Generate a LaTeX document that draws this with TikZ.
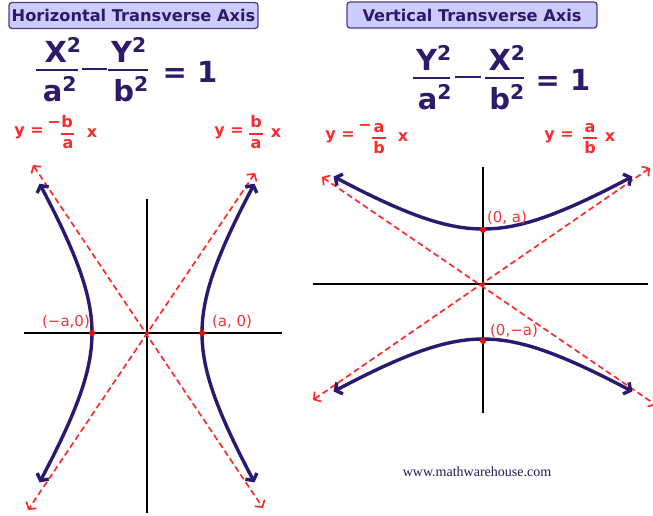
\documentclass[tikz,border=0pt]{standalone}
\usepackage{fontspec}
\setmainfont{DejaVu Sans}
\newfontfamily\wmfont{Liberation Serif}
\usetikzlibrary{arrows.meta,positioning}
\definecolor{boxfill}{HTML}{CCCCFF}
\definecolor{boxdraw}{HTML}{4B3C8C}
\definecolor{eqpurple}{HTML}{2E1A6B}
\definecolor{curvecol}{HTML}{2B1870}
\definecolor{asymred}{HTML}{FF2A2A}
\definecolor{labred}{HTML}{EE3535}
\tikzset{
  titlebox/.style={rectangle,rounded corners=3pt,draw=boxdraw,fill=boxfill,line width=1.3pt,
    text=eqpurple,font=\fontsize{16.2}{16}\selectfont\bfseries,minimum height=26pt,inner sep=2pt},
  eqpart/.style={text=eqpurple,font=\fontsize{29}{29}\selectfont\bfseries,inner sep=0pt,anchor=base},
  eqbar/.style={draw=eqpurple,line width=2.4pt},
  hypcurve/.style={draw=curvecol,line width=3.4pt,line cap=round,
    {Straight Barb[length=5pt,width=13pt]}-{Straight Barb[length=5pt,width=13pt]}},
  asym/.style={draw=asymred,line width=1.7pt,dash pattern=on 6pt off 3.5pt,
    {Straight Barb[length=5pt,width=12pt]}-{Straight Barb[length=5pt,width=12pt]}},
  axisline/.style={draw=black,line width=1.7pt},
  asymlabel/.style={text=asymred,font=\fontsize{16}{16}\selectfont\bfseries,inner sep=0pt},
  labbar/.style={draw=asymred,line width=1.7pt},
  ptlabel/.style={text=labred,font=\fontsize{15}{15}\selectfont,inner sep=0pt},
  vertexdot/.style={circle,fill=red,inner sep=0pt,minimum size=6pt},
}
\begin{document}
\begin{tikzpicture}[x=1pt,y=-1pt]
  \useasboundingbox[fill=white] (0,0) rectangle (653,515);
  % titles
  \node[titlebox,minimum width=249pt] (ht) at (133.5,15.5) {Horizontal Transverse Axis};
  \node[titlebox,minimum width=250pt] (vt) at (472,15) {Vertical Transverse Axis};
  % left equation
  \node[eqpart] (hxn) at (63,62) {X\textsuperscript{2}};
  \node[eqpart] (had) at (60,101) {a\textsuperscript{2}};
  \node[eqpart] (hyn) at (129,62) {Y\textsuperscript{2}};
  \node[eqpart] (hbd) at (131,101) {b\textsuperscript{2}};
  \node[eqpart] (heq) at (190,82) {= 1};
  \draw[eqbar] (36,70) -- (78,70);
  \draw[eqbar,line width=1.8pt] (82,69) -- (107,69);
  \draw[eqbar] (108,70) -- (148,70);
  % right equation
  \node[eqpart] (vyn) at (434,70) {Y\textsuperscript{2}};
  \node[eqpart] (vad) at (435,109) {a\textsuperscript{2}};
  \node[eqpart] (vxn) at (507,70) {X\textsuperscript{2}};
  \node[eqpart] (vbd) at (507,109) {b\textsuperscript{2}};
  \node[eqpart] (veq) at (563,90) {= 1};
  \draw[eqbar] (413,78) -- (450,78);
  \draw[eqbar,line width=1.8pt] (455,77) -- (481,77);
  \draw[eqbar] (485,78) -- (524,78);
  % asymptote labels
  \node[asymlabel] (hnegy) at (29,133) {y =};
  \node[asymlabel] (hnegm) at (54,125) {−};
  \node[asymlabel] (hnegn) at (67,122) {b};
  \node[asymlabel] (hnegd) at (68,144) {a};
  \node[asymlabel] (hnegx) at (92,133) {x};
  \draw[labbar] (61,134) -- (74,134);
  \node[asymlabel] (hposy) at (229,133) {y =};
  \node[asymlabel] (hposn) at (256,122) {b};
  \node[asymlabel] (hposd) at (256,144) {a};
  \node[asymlabel] (hposx) at (276,133) {x};
  \draw[labbar] (249,134) -- (263,134);
  \node[asymlabel] (vnegy) at (340,137) {y =};
  \node[asymlabel] (vnegm) at (365,128) {−};
  \node[asymlabel] (vnegn) at (379,128) {a};
  \node[asymlabel] (vnegd) at (379,148) {b};
  \node[asymlabel] (vnegx) at (403,137) {x};
  \draw[labbar] (372,138) -- (386,138);
  \node[asymlabel] (vposy) at (559,137) {y =};
  \node[asymlabel] (vposn) at (590,128) {a};
  \node[asymlabel] (vposd) at (590,148) {b};
  \node[asymlabel] (vposx) at (610,137) {x};
  \draw[labbar] (583,138) -- (597,138);
  % horizontal transverse axis graph
  \coordinate (ho) at (147,333);
  \draw[axisline] (24,333) -- (282,333);
  \draw[axisline] (147,199) -- (147,513);
  \coordinate (ha1) at (33,165);
  \coordinate (ha2) at (263,508);
  \coordinate (hb1) at (255,173);
  \coordinate (hb2) at (28,510);
  \draw[asym] (ha1) -- (ha2);
  \draw[asym] (hb1) -- (hb2);
  \draw[hypcurve] plot[smooth,domain=-1.29:1.29,samples=40] ({147+55*cosh(\x)},{333-89*sinh(\x)});
  \draw[hypcurve] plot[smooth,domain=-1.29:1.29,samples=40] ({147-55*cosh(\x)},{333-89*sinh(\x)});
  \node[vertexdot] (hvl) at (92,333) {};
  \node[vertexdot] (hvr) at (202,333) {};
  \node[vertexdot,minimum size=4pt] (hoc) at (ho) {};
  \node[ptlabel] (hvll) at (66,322) {(−a,0)};
  \node[ptlabel] (hvrl) at (232,322) {(a, 0)};
  % vertical transverse axis graph
  \coordinate (vo) at (483,284);
  \draw[axisline] (313,284) -- (648,284);
  \draw[axisline] (483,167) -- (483,413);
  \coordinate (va1) at (322,177);
  \coordinate (va2) at (656,405);
  \coordinate (vb1) at (650,168);
  \coordinate (vb2) at (313,400);
  \draw[asym] (va1) -- (va2);
  \draw[asym] (vb1) -- (vb2);
  \draw[hypcurve] plot[smooth,domain=-1.29:1.29,samples=40] ({483+89*sinh(\x)},{284-55*cosh(\x)});
  \draw[hypcurve] plot[smooth,domain=-1.29:1.29,samples=40] ({483+89*sinh(\x)},{284+55*cosh(\x)});
  \node[vertexdot] (vvt) at (483,230) {};
  \node[vertexdot] (vvb) at (483,341) {};
  \node[vertexdot,minimum size=4pt] (voc) at (vo) {};
  \node[ptlabel] (vvtl) at (507,218) {(0, a)};
  \node[ptlabel] (vvbl) at (514,331) {(0,−a)};
  % watermark
  \node[text=eqpurple!85!black,font=\wmfont\fontsize{14}{14}\selectfont,inner sep=0pt] (wm) at (477,472) {www.mathwarehouse.com};
\end{tikzpicture}
\end{document}
